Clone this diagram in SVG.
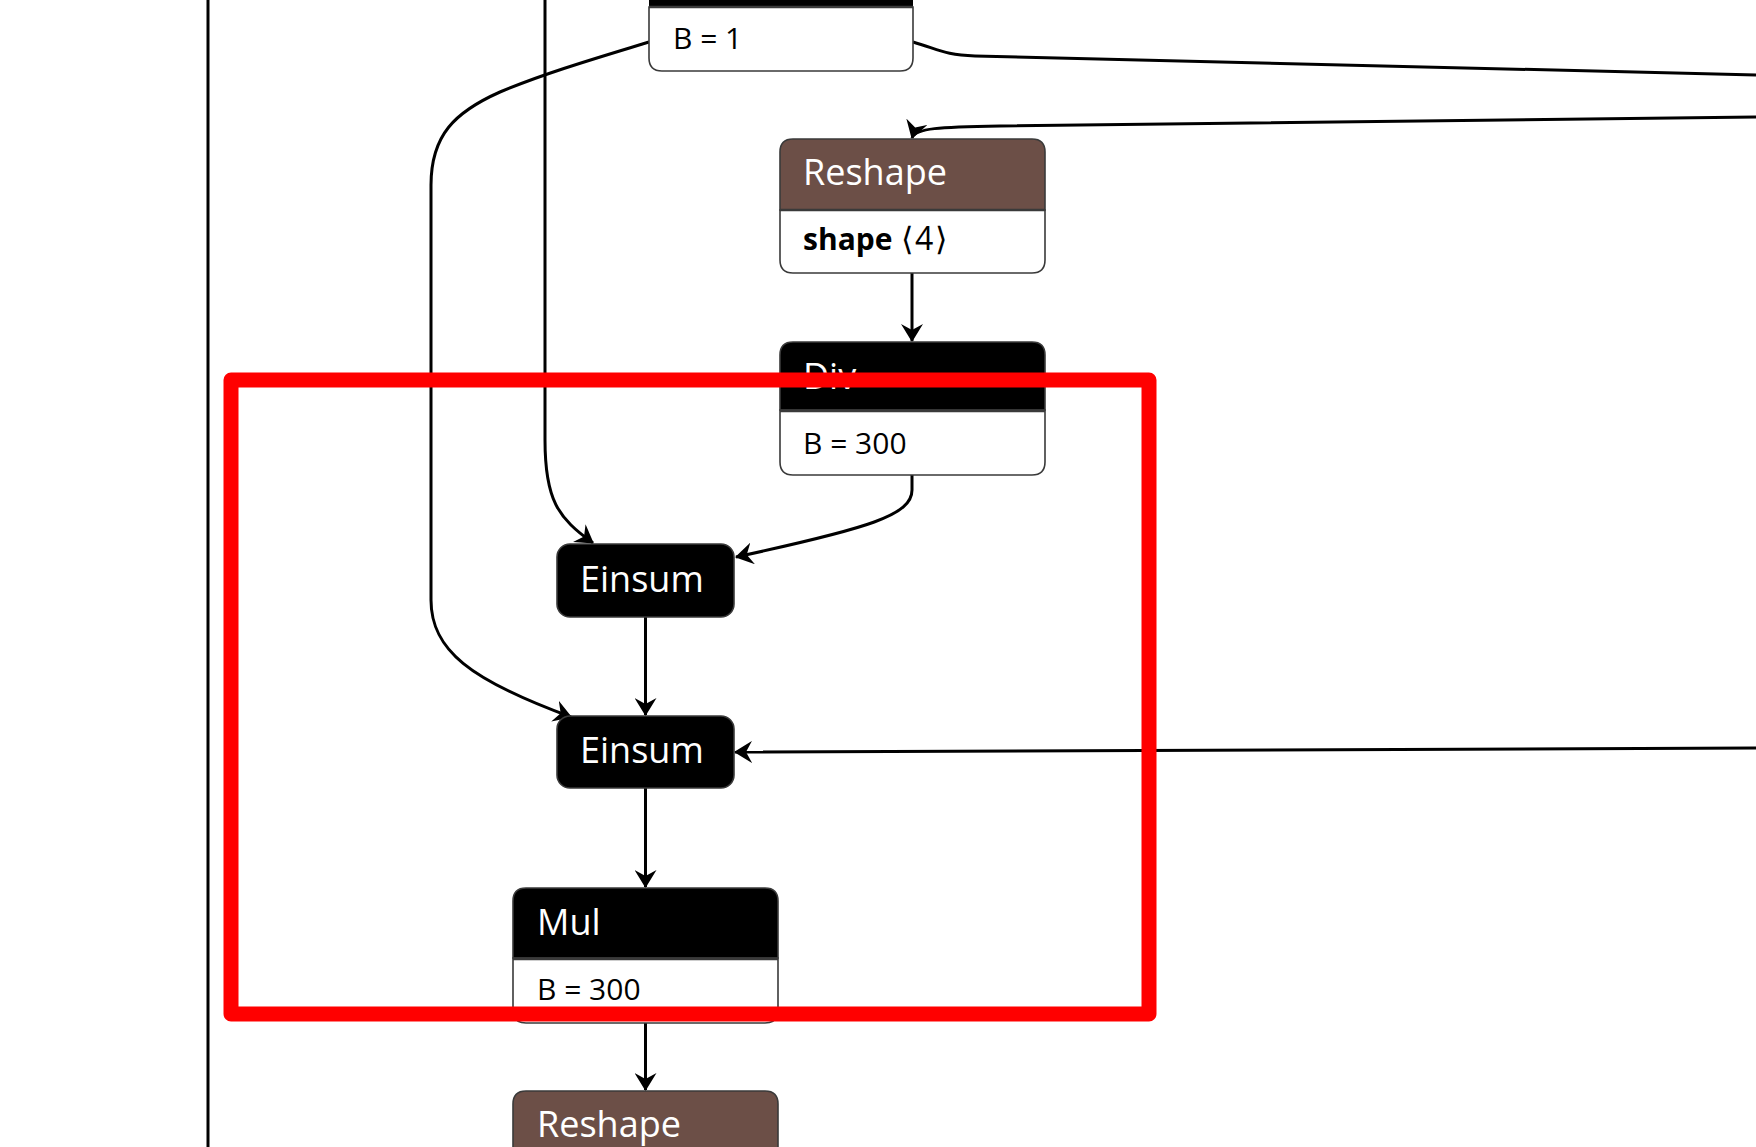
<svg xmlns="http://www.w3.org/2000/svg" width="1756" height="1147" viewBox="0 0 1756 1147">
<style>
.border{stroke:#3a3a3a;stroke-width:1.6;}
.hdr{fill:#000;}
.shp{fill:#6c4f47;}
.body{fill:#fff;}
.sep{stroke:#3a3a3a;stroke-width:2.5;}
.htxt{font-family:"Open Sans","Noto Sans",sans-serif;font-size:36px;fill:#fff;}
.btxt{font-family:"Open Sans","Noto Sans",sans-serif;font-size:30px;fill:#000;}
.edge{fill:none;stroke:#000;stroke-width:3;}
</style>
<defs>
<marker id="arr" markerUnits="userSpaceOnUse" viewBox="0 0 18 22" refX="17" refY="11" markerWidth="18" markerHeight="22" orient="auto">
<path d="M0,0 L18,11 L0,22 L6,11 Z" fill="#000"/>
</marker>
</defs>
<rect width="1756" height="1147" fill="#fff"/>
<g id="connectors">
<path class="edge" d="M208,0 V1147"/>
<path class="edge" d="M545,0 L545,440 C545,500 558,518 593,543" marker-end="url(#arr)"/>
<path class="edge" d="M649,42 C600,57 545,73 500,92 C455,112 431,135 431,185 L431,600 C431,650 470,680 571,717" marker-end="url(#arr)"/>
<path class="edge" d="M913,42 C940,50 945,55 975,56 L1756,75"/>
<path class="edge" d="M1756,117 L1000,126 C940,127 915,128 912,138" marker-end="url(#arr)"/>
<path class="edge" d="M912,273 L912,341" marker-end="url(#arr)"/>
<path class="edge" d="M912,475 L912,490 C912,515 870,528 736,557" marker-end="url(#arr)"/>
<path class="edge" d="M645.5,617 L645.5,715" marker-end="url(#arr)"/>
<path class="edge" d="M1756,748 L735,752" marker-end="url(#arr)"/>
<path class="edge" d="M645.5,788 L645.5,887" marker-end="url(#arr)"/>
<path class="edge" d="M645.5,1023 L645.5,1090" marker-end="url(#arr)"/>
</g>
<g id="node-top">
<path class="hdr" d="M649,-60 H913 V7 H649 Z"/>
<path class="body border" d="M649,7 H913 V58 Q913,71 900,71 H662 Q649,71 649,58 Z"/>
<line class="sep" x1="649" y1="7" x2="913" y2="7"/>
<text class="btxt" x="673" y="49">B = 1</text>
</g>
<g id="node-reshape1">
<path class="shp border" d="M780,210 V152 Q780,139 793,139 H1032 Q1045,139 1045,152 V210 Z"/>
<path class="body border" d="M780,210 H1045 V260 Q1045,273 1032,273 H793 Q780,273 780,260 Z"/>
<line class="sep" x1="780" y1="210" x2="1045" y2="210"/>
<text class="htxt" x="803" y="185">Reshape</text>
<text class="btxt" x="803" y="250"><tspan font-weight="bold">shape</tspan><tspan x="901" font-size="32" letter-spacing="2">⟨4⟩</tspan></text>
</g>
<g id="node-div">
<path class="hdr border" d="M780,410 V355 Q780,342 793,342 H1032 Q1045,342 1045,355 V410 Z"/>
<path class="body border" d="M780,410 H1045 V462 Q1045,475 1032,475 H793 Q780,475 780,462 Z"/>
<line class="sep" x1="780" y1="411" x2="1045" y2="411"/>
<text class="htxt" x="803" y="389">Div</text>
<text class="btxt" x="803" y="454">B = 300</text>
</g>
<g id="node-einsum1">
<rect class="hdr border" x="557" y="544" width="177" height="73" rx="13"/>
<text class="htxt" x="580" y="592">Einsum</text>
</g>
<g id="node-einsum2">
<rect class="hdr border" x="557" y="716" width="177" height="72" rx="13"/>
<text class="htxt" x="580" y="763">Einsum</text>
</g>
<g id="node-mul">
<path class="hdr border" d="M513,958 V901 Q513,888 526,888 H765 Q778,888 778,901 V958 Z"/>
<path class="body border" d="M513,958 H778 V1010 Q778,1023 765,1023 H526 Q513,1023 513,1010 Z"/>
<line class="sep" x1="513" y1="959" x2="778" y2="959"/>
<text class="htxt" x="537" y="935">Mul</text>
<text class="btxt" x="537" y="1000">B = 300</text>
</g>
<g id="node-reshape2">
<path class="shp border" d="M513,1170 V1104 Q513,1091 526,1091 H765 Q778,1091 778,1104 V1170 Z"/>
<text class="htxt" x="537" y="1137">Reshape</text>
</g>
<rect id="highlight" x="231" y="380" width="918" height="634" fill="none" stroke="#ff0000" stroke-width="15" stroke-linejoin="round"/>
</svg>
